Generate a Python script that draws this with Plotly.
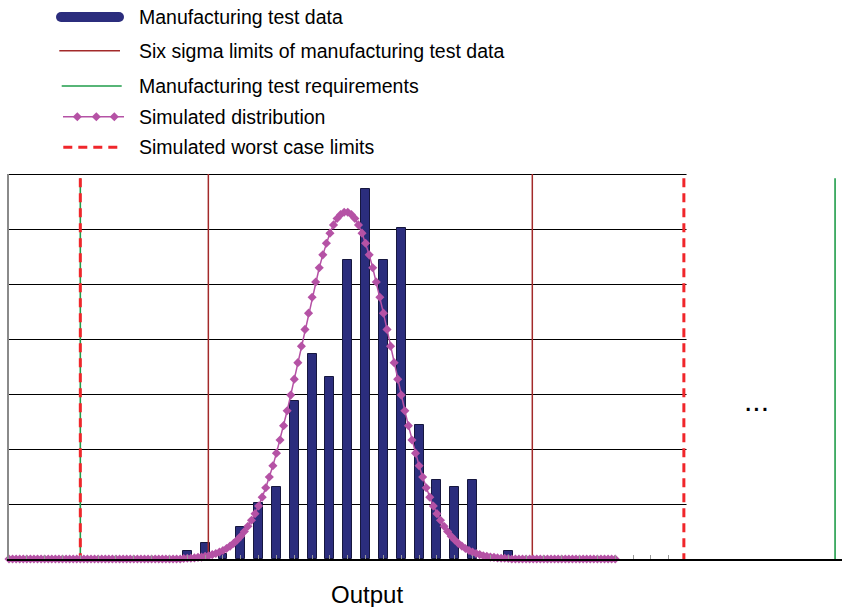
import plotly.graph_objects as go

# ---------------------------------------------------------------------------
# Data
# ---------------------------------------------------------------------------
# Manufacturing test histogram: percent of units per output bin
bin_positions = [10, 11, 12, 13, 14, 15, 16, 17, 18, 19,
                 20, 21, 22, 23, 24, 25, 26, 27, 28]
test_data_pct = [0.29, 0.58, 0.20, 1.16, 2.04, 2.62, 5.75, 7.45, 6.62, 10.87,
                 13.45, 10.87, 12.04, 4.87, 2.87, 2.62, 2.87, 0.00, 0.29]

# Simulated distribution, sampled every 0.2 output units starting at 0
sim_x0 = 0.0
sim_dx = 0.2
sim_dist_pct = [
    0.00, 0.00, 0.00, 0.00, 0.00, 0.00, 0.00, 0.00, 0.00, 0.00,
    0.00, 0.00, 0.00, 0.00, 0.00, 0.00, 0.00, 0.00, 0.00, 0.00,
    0.00, 0.00, 0.00, 0.00, 0.00, 0.00, 0.00, 0.00, 0.00, 0.00,
    0.00, 0.00, 0.00, 0.00, 0.00, 0.00, 0.00, 0.00, 0.00, 0.00,
    0.00, 0.00, 0.00, 0.00, 0.00, 0.00, 0.00, 0.00, 0.00, 0.02,
    0.03, 0.03, 0.04, 0.06, 0.07, 0.10, 0.12, 0.16, 0.20, 0.25,
    0.31, 0.38, 0.47, 0.57, 0.69, 0.83, 1.00, 1.19, 1.41, 1.65,
    1.93, 2.25, 2.59, 2.98, 3.39, 3.85, 4.33, 4.85, 5.39, 5.96,
    6.54, 7.14, 7.74, 8.35, 8.94, 9.52, 10.07, 10.59, 11.06, 11.48,
    11.85, 12.15, 12.38, 12.53, 12.61, 12.61, 12.53, 12.38, 12.15, 11.85,
    11.48, 11.06, 10.59, 10.07, 9.52, 8.94, 8.35, 7.74, 7.14, 6.54,
    5.96, 5.39, 4.85, 4.33, 3.85, 3.39, 2.98, 2.59, 2.25, 1.93,
    1.65, 1.41, 1.19, 1.00, 0.83, 0.69, 0.57, 0.47, 0.38, 0.31,
    0.25, 0.20, 0.16, 0.12, 0.10, 0.07, 0.06, 0.04, 0.03, 0.03,
    0.02, 0.00, 0.00, 0.00, 0.00, 0.00, 0.00, 0.00, 0.00, 0.00,
    0.00, 0.00, 0.00, 0.00, 0.00, 0.00, 0.00, 0.00, 0.00, 0.00,
    0.00, 0.00, 0.00, 0.00, 0.00, 0.00, 0.00, 0.00, 0.00, 0.00,
    0.00,
]

# Limit positions on the output axis
six_sigma_limits = [11.18, 29.35]
requirement_limits = [4.0, 46.33]
worst_case_limits = [4.0, 37.85]

# Value axis grid levels and the category tick positions
grid_levels = [2, 4, 6, 8, 10, 12, 14]
tick_positions = [0, 1, 2, 3, 4, 5, 6, 7, 8, 9, 10, 11, 12, 13, 14, 15, 16, 17, 18,
                  19, 20, 21, 22, 23, 24, 25, 26, 27, 28, 29, 30, 31, 32, 33, 34, 35, 36, 37]

legend_labels = [
    "Manufacturing test data",
    "Six sigma limits of manufacturing test data",
    "Manufacturing test requirements",
    "Simulated distribution",
    "Simulated worst case limits",
]
axis_title = "Output"
gap_marker = "..."

# ---------------------------------------------------------------------------
# Styling / geometry
# ---------------------------------------------------------------------------
W, H = 842, 607
PX_LEFT, PX_BASE, PX_TOP = 9.0, 559.0, 174.0
PX_PER_UNIT = 17.83
GRID_END = 38
Y_MAX = 14
LIMIT_TOP = 13.85
PX_PER_VALUE = (PX_BASE - PX_TOP) / Y_MAX
GRID_NUDGE = 0.5 / PX_PER_VALUE   # keeps 1px grid lines on a whole pixel row

FONT = "Liberation Sans, Arial, sans-serif"
BAR_COLOR = "#2B2D7D"
BAR_EDGE = "#16173F"
SIM_COLOR = "#B552A5"
SIX_SIGMA_COLOR = "#A32A2A"
REQ_COLOR = "#1F9D4A"
WORST_COLOR = "#F0262B"
DASH = "9px,6px"

x_end = (W - PX_LEFT) / PX_PER_UNIT
x_dom = [PX_LEFT / W, 1.0]
y_dom = [(H - PX_BASE) / H, (H - PX_TOP) / H]


def vertical_segments(xs, top):
    px, py = [], []
    for v in xs:
        px += [v, v, None]
        py += [top, 0, None]
    return px, py


fig = go.Figure()

# Limit lines (drawn first so bars and curve sit on top)
rx, ry = vertical_segments(requirement_limits, LIMIT_TOP)
fig.add_trace(go.Scatter(x=rx, y=ry, mode="lines", hoverinfo="skip",
                         line=dict(color=REQ_COLOR, width=1.6), showlegend=False))
wx, wy = vertical_segments(worst_case_limits, LIMIT_TOP)
fig.add_trace(go.Scatter(x=wx, y=wy, mode="lines", hoverinfo="skip",
                         line=dict(color=WORST_COLOR, width=3, dash=DASH), showlegend=False))
sx, sy = vertical_segments(six_sigma_limits, Y_MAX)
fig.add_trace(go.Scatter(x=sx, y=sy, mode="lines", hoverinfo="skip",
                         line=dict(color=SIX_SIGMA_COLOR, width=1.5), showlegend=False))

# Histogram of manufacturing test data
fig.add_trace(go.Bar(x=bin_positions, y=test_data_pct, width=0.5,
                     marker=dict(color=BAR_COLOR, line=dict(color=BAR_EDGE, width=1)),
                     showlegend=False))

# Simulated distribution
fig.add_trace(go.Scatter(x0=sim_x0, dx=sim_dx, y=sim_dist_pct, mode="lines+markers",
                         line=dict(color=SIM_COLOR, width=1.5),
                         marker=dict(symbol="diamond", size=7, color=SIM_COLOR),
                         cliponaxis=False, showlegend=False))

# Horizontal grid, stopping at the end of the category range
for lv in grid_levels:
    fig.add_shape(type="line", xref="x", yref="y", x0=0, x1=GRID_END,
                  y0=lv - GRID_NUDGE, y1=lv - GRID_NUDGE,
                  line=dict(color="#000000", width=1), layer="below")

# ---------------------------------------------------------------------------
# Legend, drawn on an overlay axis measured in pixels
# ---------------------------------------------------------------------------
row_y = [17, 50.7, 86, 116.7, 147.3]
lg = dict(xaxis="x3", yaxis="y3", hoverinfo="skip", showlegend=False)

fig.add_trace(go.Scatter(x=[61, 119], y=[row_y[0]] * 2, mode="lines+markers",
                         line=dict(color=BAR_COLOR, width=10),
                         marker=dict(symbol="circle", size=10, color=BAR_COLOR), **lg))
fig.add_trace(go.Scatter(x=[59.3, 120], y=[row_y[1]] * 2, mode="lines",
                         line=dict(color=SIX_SIGMA_COLOR, width=1.5), **lg))
fig.add_trace(go.Scatter(x=[61.7, 121.7], y=[row_y[2]] * 2, mode="lines",
                         line=dict(color=REQ_COLOR, width=1.6), **lg))
fig.add_trace(go.Scatter(x=[63, 124], y=[row_y[3]] * 2, mode="lines",
                         line=dict(color=SIM_COLOR, width=1.5), **lg))
fig.add_trace(go.Scatter(x=[77.3, 96.3, 114.3], y=[row_y[3]] * 3, mode="markers",
                         marker=dict(symbol="diamond", size=7, color=SIM_COLOR), **lg))
fig.add_trace(go.Scatter(x=[63.3, 117.3], y=[row_y[4]] * 2, mode="lines",
                         line=dict(color=WORST_COLOR, width=3, dash=DASH), **lg))

annotations = []
for label, yy in zip(legend_labels, row_y):
    annotations.append(dict(text=label, x=137, y=yy, xref="x3", yref="y3",
                            xanchor="left", yanchor="middle", showarrow=False,
                            font=dict(family=FONT, size=19.5, color="#000000")))
annotations.append(dict(text=axis_title, x=366.7, y=594, xref="x3", yref="y3",
                        xanchor="center", yanchor="middle", showarrow=False,
                        font=dict(family=FONT, size=24, color="#000000")))
annotations.append(dict(text=gap_marker, x=756.7, y=400, xref="x3", yref="y3",
                        xanchor="center", yanchor="middle", showarrow=False,
                        font=dict(family=FONT, size=30, color="#000000")))

fig.update_layout(
    width=W, height=H,
    margin=dict(l=0, r=0, t=0, b=0),
    paper_bgcolor="#FFFFFF",
    plot_bgcolor="rgba(0,0,0,0)",
    bargap=0,
    annotations=annotations,
    xaxis=dict(domain=x_dom, range=[0, x_end], anchor="y",
               showgrid=False, zeroline=False, showticklabels=False,
               showline=True, linecolor="#000000", linewidth=2,
               tickmode="array", tickvals=tick_positions, ticks="inside",
               ticklen=4, tickcolor="#9A9A9A", tickwidth=1),
    yaxis=dict(domain=y_dom, range=[0, Y_MAX], anchor="x",
               showgrid=False, zeroline=False, showticklabels=False,
               showline=True, linecolor="#8A8A8A", linewidth=2, ticks=""),
    xaxis3=dict(domain=[0, 1], range=[0, W], anchor="y3", visible=False),
    yaxis3=dict(domain=[0, 1], range=[H, 0], anchor="x3", visible=False),
)

fig.write_html("out.html")
